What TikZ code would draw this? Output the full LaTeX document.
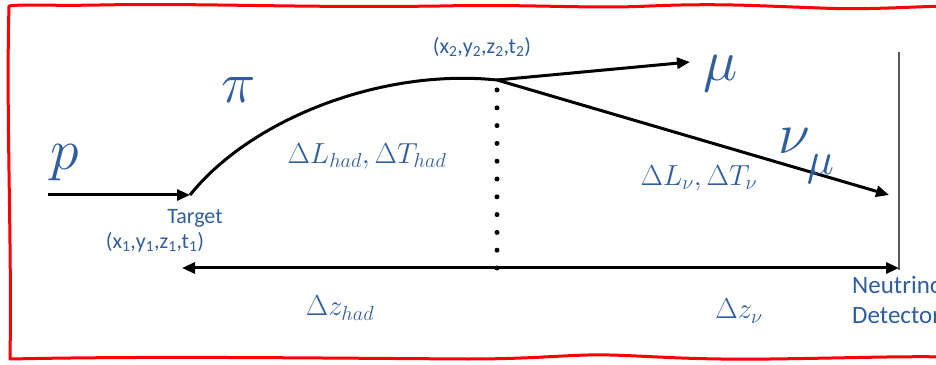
\RequirePackage{fix-cm}
\documentclass[tikz,border=0pt]{standalone}
\usepackage{fontspec}
\newfontfamily\calibri{Carlito}
\usetikzlibrary{arrows.meta}
\definecolor{labelblue}{RGB}{47,94,158}
\definecolor{detgray}{RGB}{90,90,90}

\begin{document}
\begin{tikzpicture}[x=1pt,y=1pt,
  beam/.style={line width=3pt,-{Triangle[length=13pt,width=11pt]}},
  span/.style={line width=3pt,{Triangle[length=13pt,width=11pt]}-{Triangle[length=13pt,width=11pt]}},
  dotline/.style={line width=5pt,line cap=round,dash pattern=on 0pt off 17.8pt},
  biglbl/.style={text=labelblue,font=\fontsize{58}{58}\selectfont,inner sep=0pt},
  midlbl/.style={text=labelblue,font=\fontsize{29}{30}\selectfont,inner sep=0pt},
  smalllbl/.style={text=labelblue,font=\calibri\fontsize{22}{30}\selectfont,inner sep=0pt}]
\clip (0,0) rectangle (936,364);
% hand drawn frame, open to the right
\draw[red,line width=3pt,line cap=round,line join=round]
(950,358) .. controls (900,357) and (870,354) .. (820,356)
.. controls (760,358) and (720,361) .. (650,358)
.. controls (590,355) and (530,360) .. (440,358)
.. controls (300,356) and (200,361) .. (100,359)
.. controls (50,358) and (20,360) .. (9,358)
.. controls (6,250) and (12,120) .. (10,5)
.. controls (150,8) and (300,6) .. (468,5)
.. controls (540,5) and (570,10) .. (610,9)
.. controls (650,8) and (690,4) .. (770,5)
.. controls (850,6) and (900,8) .. (950,7);

\coordinate (src) at (48,169);
\coordinate (target) at (190,169);
\coordinate (decay) at (497,284);
\coordinate (mutip) at (690,302);
\coordinate (nutip) at (889,169);
\coordinate (dotstart) at (497,274);
\coordinate (split) at (497,96);
\coordinate (zleft) at (182,96);
\coordinate (zright) at (899,96);
\coordinate (dettop) at (899,312);
\coordinate (detbot) at (899,94);

% detector plane
\draw[detgray,line width=2pt] (dettop) -- (detbot);

% proton, pion and its decay
\draw[beam] (src) -- (target);
\draw[line width=3pt] (target) .. controls (250,244) and (380,296) .. (decay);
\draw[beam] (decay) -- (mutip);
\draw[beam] (decay) -- (nutip);
\draw[dotline] (dotstart) -- (split);
\draw[span] (zleft) -- (zright);

\node[biglbl] (plbl) at (65,201) {$p$};
\node[biglbl] (pilbl) at (239,274) {$\pi$};
\node[biglbl] (mulbl) at (721,290) {$\mu$};
\node[biglbl] (nulbl) at (806,208) {$\nu$\kern-3pt\raisebox{-0.36em}{\fontsize{46}{46}\selectfont$\mu$}};
\node[midlbl] (hadlbl) at (367,208) {$\Delta L_{had},\Delta T_{had}$};
\node[midlbl] (nulenlbl) at (699,186) {$\Delta L_\nu,\Delta T_\nu$};
\node[midlbl] (dzhad) at (340,56) {$\Delta z_{had}$};
\node[midlbl] (dznu) at (739,53) {$\Delta z_\nu$};
\node[smalllbl] (targetlbl) at (195,146) {Target};
\node[smalllbl] (x1lbl) at (155,122) {(x\textsubscript{1},y\textsubscript{1},z\textsubscript{1},t\textsubscript{1})};
\node[smalllbl] (x2lbl) at (482,317) {(x\textsubscript{2},y\textsubscript{2},z\textsubscript{2},t\textsubscript{2})};
\node[smalllbl,font=\calibri\fontsize{25}{30}\selectfont,anchor=west,align=left] (detlbl) at (852,64) {Neutrino\\Detector};
\end{tikzpicture}
\end{document}
